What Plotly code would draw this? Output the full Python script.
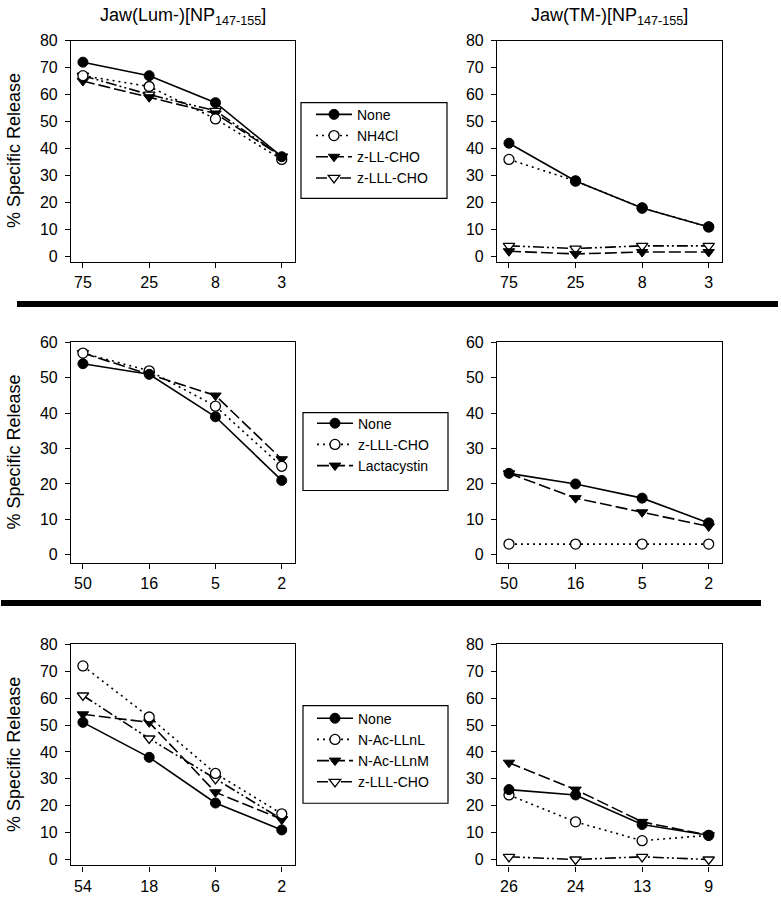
import plotly.graph_objects as go

W, H = 781, 900

# ---------------- data ----------------
x_row1 = ["75", "25", "8", "3"]
x_row2 = ["50", "16", "5", "2"]
x_row3_left = ["54", "18", "6", "2"]
x_row3_right = ["26", "24", "13", "9"]

# Row 1 : Jaw(Lum-) left, Jaw(TM-) right
r1_left_none = [72, 67, 57, 37]
r1_left_nh4cl = [67, 63, 51, 36]
r1_left_zll = [65, 59, 53, 37]
r1_left_zlll = [67, 60, 54, 37]

r1_right_none = [42, 28, 18, 11]
r1_right_nh4cl = [36, 28, 18, 11]
r1_right_zll = [2, 1, 1.7, 1.7]
r1_right_zlll = [4, 3, 4, 4]

# Row 2
r2_left_none = [54, 51, 39, 21]
r2_left_zlll = [57, 52, 42, 25]
r2_left_lacta = [57, 51, 45, 27]

r2_right_none = [23, 20, 16, 9]
r2_right_zlll = [3, 3, 3, 3]
r2_right_lacta = [23, 16, 12, 8]

# Row 3
r3_left_none = [51, 38, 21, 11]
r3_left_llnl = [72, 53, 32, 17]
r3_left_llnm = [54, 51, 25, 15]
r3_left_zlll = [61, 45, 30, 15]

r3_right_none = [26, 24, 13, 9]
r3_right_llnl = [24, 14, 7, 9]
r3_right_llnm = [36, 26, 14, 9]
r3_right_zlll = [1, 0, 1, 0]

titles = ["Jaw(Lum-)[NP<sub>147-155</sub>]", "Jaw(TM-)[NP<sub>147-155</sub>]"]
ytitle = "% Specific Release"

# ---------------- styles ----------------
FONT = "Liberation Sans, Arial, Helvetica, sans-serif"
MS = 10
STY = {
    "none": dict(line=dict(color="black", width=1.6, dash="solid"),
                 marker=dict(symbol="circle", size=MS, color="black",
                             line=dict(color="black", width=1))),
    "dot": dict(line=dict(color="black", width=1.6, dash="2px,4px"),
                marker=dict(symbol="circle", size=MS, color="white",
                            line=dict(color="black", width=1.3))),
    "dash": dict(line=dict(color="black", width=1.6, dash="12px,4px"),
                 marker=dict(symbol="triangle-down", size=MS, color="black",
                             line=dict(color="black", width=1))),
    "dashdotdot": dict(line=dict(color="black", width=1.6, dash="11px,3px,2px,3px,2px,3px"),
                       marker=dict(symbol="triangle-down", size=MS, color="white",
                                   line=dict(color="black", width=1.3))),
}

fig = go.Figure()

# panel geometry (pixels)
cols = [(71, 295), (497, 722)]
rows = [(33, 257), (339, 562), (645, 869)]
yranges = [[-1.83, 80], [-2.2, 60], [-2.2, 80]]

def px2x(p):
    return p / W

def px2y(p):
    return 1 - p / H

panels = [
    (0, 0, x_row1, [("None", r1_left_none, "none"), ("NH4Cl", r1_left_nh4cl, "dot"),
                    ("z-LL-CHO", r1_left_zll, "dash"), ("z-LLL-CHO", r1_left_zlll, "dashdotdot")], "legend"),
    (0, 1, x_row1, [("None", r1_right_none, "none"), ("NH4Cl", r1_right_nh4cl, "dot"),
                    ("z-LL-CHO", r1_right_zll, "dash"), ("z-LLL-CHO", r1_right_zlll, "dashdotdot")], "legend"),
    (1, 0, x_row2, [("None", r2_left_none, "none"), ("z-LLL-CHO", r2_left_zlll, "dot"),
                    ("Lactacystin", r2_left_lacta, "dash")], "legend2"),
    (1, 1, x_row2, [("None", r2_right_none, "none"), ("z-LLL-CHO", r2_right_zlll, "dot"),
                    ("Lactacystin", r2_right_lacta, "dash")], "legend2"),
    (2, 0, x_row3_left, [("None", r3_left_none, "none"), ("N-Ac-LLnL", r3_left_llnl, "dot"),
                         ("N-Ac-LLnM", r3_left_llnm, "dash"), ("z-LLL-CHO", r3_left_zlll, "dashdotdot")], "legend3"),
    (2, 1, x_row3_right, [("None", r3_right_none, "none"), ("N-Ac-LLnL", r3_right_llnl, "dot"),
                          ("N-Ac-LLnM", r3_right_llnm, "dash"), ("z-LLL-CHO", r3_right_zlll, "dashdotdot")], "legend3"),
]

layout_axes = {}
for i, (r, c, xc, series, leg) in enumerate(panels):
    k = i + 1
    xa = "x" if k == 1 else f"x{k}"
    ya = "y" if k == 1 else f"y{k}"
    for name, vals, sty in reversed(series):
        fig.add_trace(go.Scatter(
            x=xc, y=vals, name=name, mode="lines+markers",
            line=STY[sty]["line"], marker=STY[sty]["marker"],
            xaxis=xa, yaxis=ya, legend=leg, showlegend=(c == 0),
            legendrank={"none": 1, "dot": 2, "dash": 3, "dashdotdot": 4}[sty],
        ))
    x0, x1 = cols[c]
    ytop, ybot = rows[r]
    axis_common = dict(
        showline=True, linecolor="black", linewidth=1.2, mirror=True,
        ticks="outside", ticklen=5, tickwidth=1.2, tickcolor="black",
        showgrid=False, zeroline=False,
        tickfont=dict(family=FONT, size=16, color="black"),
    )
    layout_axes["xaxis" if k == 1 else f"xaxis{k}"] = dict(
        axis_common, domain=[px2x(x0), px2x(x1)], anchor=ya,
        type="category", range=[-0.18, 3.2], ticklabelstandoff=1,
    )
    layout_axes["yaxis" if k == 1 else f"yaxis{k}"] = dict(
        axis_common, domain=[px2y(ybot), px2y(ytop)], anchor=xa,
        range=yranges[r], tickmode="linear", tick0=0, dtick=10,
        ticklabelstandoff=4,
    )

fig.update_layout(**layout_axes)

legend_common = dict(
    bgcolor="rgba(0,0,0,0)", borderwidth=0,
    font=dict(family=FONT, size=14, color="black"),
    xanchor="left", yanchor="top", traceorder="normal",
    itemsizing="trace", tracegroupgap=0, itemwidth=36,
)
# legend frames (pixels): x0, x1, y0, y1, first-item centre
legend_boxes = [(301, 447, 96, 193, 116), (303, 448, 410, 489, 429), (303, 448, 707, 806, 728)]
fig.update_layout(
    legend=dict(legend_common, x=px2x(legend_boxes[0][0] + 10), y=px2y(legend_boxes[0][4] - 24)),
    legend2=dict(legend_common, x=px2x(legend_boxes[1][0] + 9), y=px2y(legend_boxes[1][4] - 24)),
    legend3=dict(legend_common, x=px2x(legend_boxes[2][0] + 9), y=px2y(legend_boxes[2][4] - 24)),
)

annotations = []
for c, t in enumerate(titles):
    x0, x1 = cols[c]
    annotations.append(dict(
        text=t, x=px2x((x0 + x1) / 2), y=px2y(9), xref="paper", yref="paper",
        xanchor="center", yanchor="middle", showarrow=False,
        font=dict(family=FONT, size=18, color="black"),
    ))
for r in range(3):
    ytop, ybot = rows[r]
    annotations.append(dict(
        text=ytitle, x=px2x(14), y=px2y((ytop + ybot) / 2), xref="paper", yref="paper",
        xanchor="center", yanchor="middle", showarrow=False, textangle=-90,
        font=dict(family=FONT, size=18, color="black"),
    ))

shapes = [
    dict(type="line", xref="paper", yref="paper", x0=px2x(17), x1=px2x(778),
         y0=px2y(300), y1=px2y(300), line=dict(color="black", width=6)),
    dict(type="line", xref="paper", yref="paper", x0=px2x(1), x1=px2x(761),
         y0=px2y(603), y1=px2y(603), line=dict(color="black", width=6)),
]
for (bx0, bx1, by0, by1, _) in legend_boxes:
    shapes.append(dict(type="rect", xref="paper", yref="paper",
                       x0=px2x(bx0), x1=px2x(bx1), y0=px2y(by1), y1=px2y(by0),
                       line=dict(color="black", width=1.2), fillcolor="rgba(0,0,0,0)"))

fig.update_layout(
    width=W, height=H, autosize=False,
    margin=dict(l=0, r=0, t=0, b=0),
    paper_bgcolor="white", plot_bgcolor="white",
    annotations=annotations, shapes=shapes,
    font=dict(family=FONT, color="black"),
)

fig.write_html("out.html", post_script="document.body.style.margin='0';",
               config={"displayModeBar": False})
